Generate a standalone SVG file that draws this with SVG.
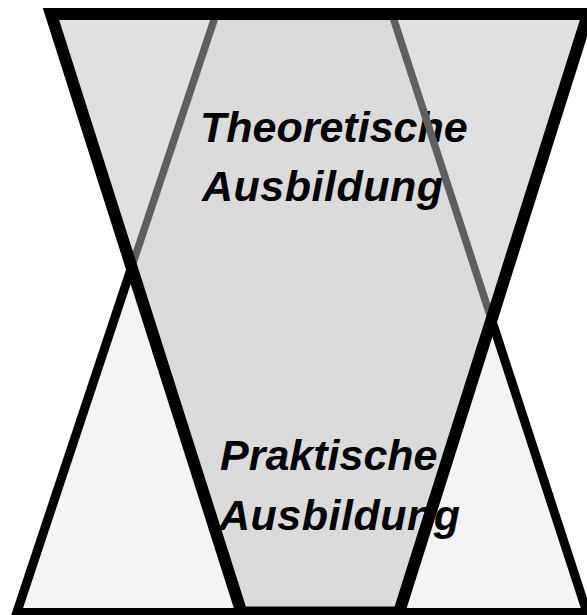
<svg xmlns="http://www.w3.org/2000/svg" width="587" height="615" viewBox="0 0 587 615">
  <style>
    .lbl { font-family: "Liberation Sans", Arial, sans-serif; font-size: 43px; font-weight: bold; font-style: italic; fill: #000; }
    .wide { letter-spacing: 0.5px; }
    .edge-black { fill: none; stroke: #000; stroke-width: 9; stroke-linejoin: miter; stroke-miterlimit: 10; }
    .edge-gray { fill: none; stroke: #5f5f5f; stroke-width: 7.5; }
    .outline-main { fill: none; stroke: #000; stroke-width: 12; stroke-linejoin: miter; stroke-miterlimit: 10; }
  </style>
  <defs>
    <clipPath id="clipInv">
      <polygon points="51,14 588,14 399,612.5 241.5,612.5"/>
    </clipPath>
  </defs>
  <rect width="587" height="615" fill="#fff"/>
  <g id="praktische-area">
    <polygon points="216,13 392,13 587,612.5 16.8,612.5" fill="#f4f4f4"/>
  </g>
  <g id="theoretische-area">
    <polygon points="51,14 588,14 399,612.5 241.5,612.5" fill="#e0e0e0"/>
    <polygon points="216,13 392,13 587,612.5 16.8,612.5" fill="#dbdbdb" clip-path="url(#clipInv)"/>
  </g>
  <g id="labels">
    <text class="lbl" x="200" y="142">Theoretische</text>
    <text class="lbl wide" x="202" y="201">Ausbildung</text>
    <text class="lbl" x="220" y="470">Praktische</text>
    <text class="lbl wide" x="219" y="530">Ausbildung</text>
  </g>
  <g id="connectors">
    <line class="edge-gray" x1="216" y1="14" x2="131.6" y2="267.2"/>
    <line class="edge-gray" x1="392" y1="14" x2="491.3" y2="319"/>
    <polyline class="edge-black" points="131.6,267.2 16.8,612.5 587,612.5 491.3,319"/>
    <polygon class="outline-main" points="51,14 588,14 399,612.5 241.5,612.5"/>
  </g>
</svg>
